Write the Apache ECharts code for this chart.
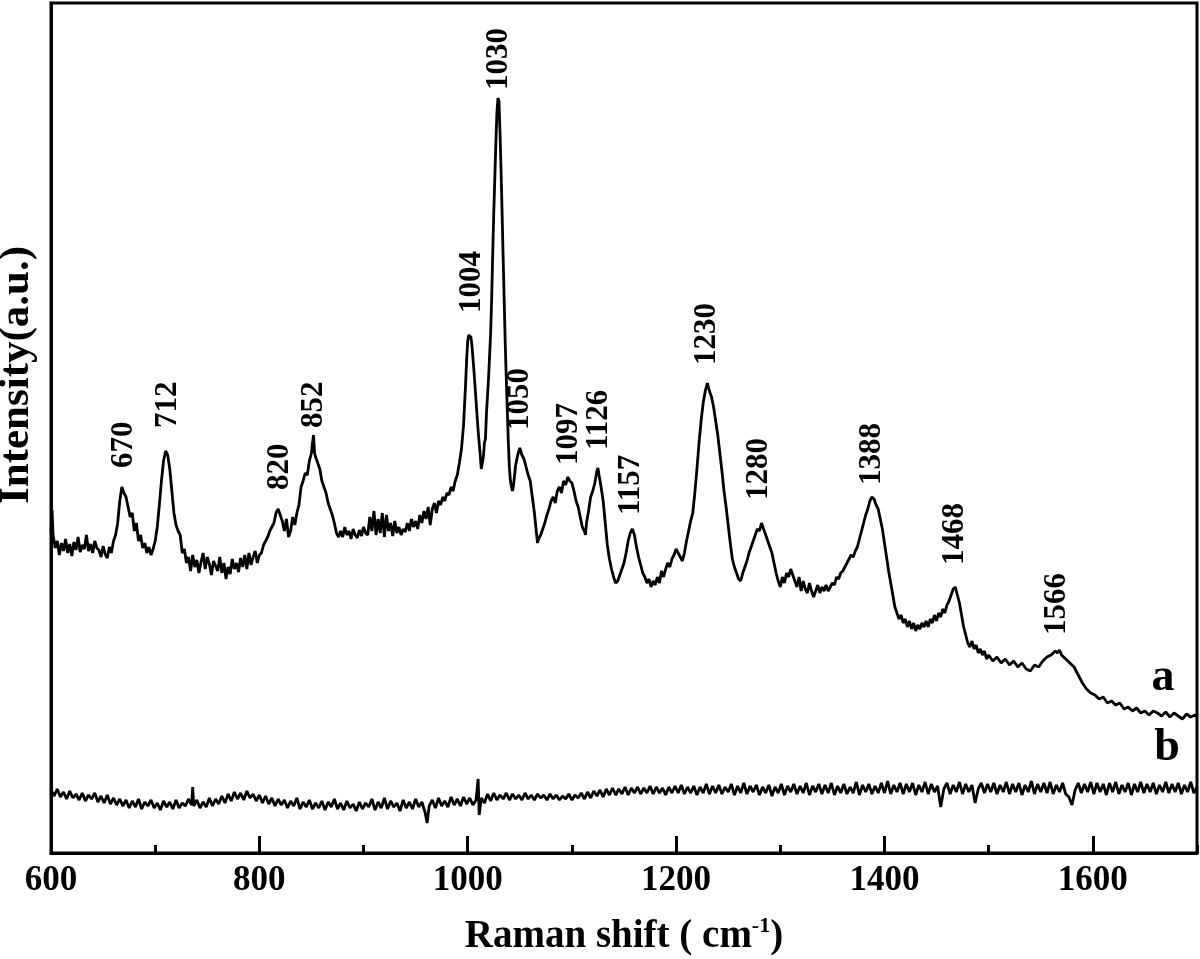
<!DOCTYPE html>
<html>
<head>
<meta charset="utf-8">
<script src="https://cdn.jsdelivr.net/npm/echarts@6/dist/echarts.min.js"></script>
<style>
html,body{margin:0;padding:0;background:#fff;}
#chart{width:1200px;height:959px;}
</style>
</head>
<body>
<div id="chart"></div>
<script>
// Raman spectrum a (shift cm-1, intensity a.u.)
const spectrumA = [
[600,320],[601,343],[602,318],[604,305],[606,312],[608,298],[610,310],[612,302],[614,314],[616,300],[618,309],[620,297],[622,311],[624,303],[626,316],[628,301],[630,308],[632,304],[634,318],[636,302],[638,309],[640,300],[642,312],[644,305],[646,303],[648,296],[650,307],[652,299],[654,295],[656,306],[658,300],[660,312],
[662,318],[664,330],[666,352],[668,366],[669,368],[670,360],[672,356],[674,346],[676,336],[678,340],[680,322],[682,330],[684,312],[686,318],[688,305],[690,310],[692,300],[694,306],[696,298],[698,304],[700,312],
[702,326],[704,348],[706,372],[708,392],[710,402],[711,404],[712,398],[714,384],[716,362],[718,340],[720,328],[722,322],[724,318],[726,300],[728,304],
[730,290],[732,296],[734,282],[736,298],[738,286],[740,293],[742,280],[744,291],[746,300],[748,284],[750,296],[752,289],[754,278],[756,292],[758,287],[760,282],[762,296],[764,280],[766,290],[768,274],[770,286],[772,279],[774,294],[776,284],[778,290],[780,281],[782,295],[784,286],[786,298],[788,284],[790,300],[792,288],[794,296],[796,302],[798,290],[800,298],
[802,300],[804,308],[806,312],[808,316],[810,322],[812,326],[814,330],[816,340],[818,344],[820,338],[822,332],[824,322],[826,334],[828,316],[830,322],[832,336],[834,328],[836,340],[838,348],
[840,366],[842,372],[844,380],[846,378],[848,392],[850,400],[851,410],[852,418],[853,400],[854,396],[856,390],[858,384],[860,372],[862,366],[864,360],[866,350],[868,344],[870,338],[872,330],[874,320],[876,316],
[878,322],[880,316],[882,326],[884,318],[886,322],[888,314],[890,324],[892,318],[894,315],[896,323],[898,317],[900,326],[902,320],[904,318],[906,336],[908,322],[910,342],[912,318],[914,334],[916,320],[918,340],[920,316],[922,338],[924,322],[926,330],[928,317],[930,332],[932,320],[934,326],[936,318],[938,324],[940,321],[942,330],[944,322],[946,334],[948,326],[950,332],[952,324],[954,338],[956,330],[958,342],[960,334],[962,346],[964,328],[966,344],[968,350],[970,340],[972,352],[974,348],[976,356],[978,352],[980,360],[982,358],[984,366],[986,362],
[988,372],[990,378],[992,390],[994,404],[996,428],[998,470],[999,494],[1000,512],[1001,518],[1002,520],[1003,516],[1004,508],[1006,482],[1008,452],[1010,422],[1012,398],[1013,384],[1014,382],[1015,396],[1016,410],[1017,414],[1018,440],[1020,475],[1022,520],[1023,555],[1024,600],[1025,640],[1026,675],[1027,710],[1028,740],[1029,755],[1030,752],[1031,720],[1032,683],[1033,640],[1034,595],[1035,553],[1036,510],[1037,475],[1038,443],[1039,410],[1040,385],[1041,372],[1042,366],[1043,362],[1044,368],[1046,388],[1048,398],[1050,405],[1052,398],[1054,394],[1056,386],[1058,378],[1060,372],[1062,356],[1064,340],[1066,320],[1067,310],[1068,314],[1070,318],[1072,324],[1074,330],[1076,338],[1078,344],[1080,352],[1082,356],[1084,350],[1086,362],[1088,366],[1090,360],[1092,372],[1094,368],[1096,376],[1098,372],[1100,370],[1102,362],[1104,352],[1106,346],[1108,336],[1110,326],[1112,322],[1113,318],[1114,330],[1116,342],[1118,356],[1120,362],[1122,370],[1124,382],[1125,385],[1126,378],[1128,366],[1130,352],[1132,330],[1134,308],[1136,294],[1138,284],[1140,276],[1142,270],[1144,272],[1146,278],[1148,284],[1150,290],[1152,300],[1154,312],[1156,320],[1158,324],[1160,318],[1162,306],[1164,296],[1166,288],[1168,280],[1170,276],[1172,270],[1174,274],[1176,266],[1178,272],[1180,268],[1182,276],[1184,270],[1186,282],[1188,276],[1190,284],[1192,290],[1194,286],[1196,294],[1198,298],[1200,304],[1202,300],[1204,296],[1206,292],[1208,300],[1210,312],[1212,322],[1214,332],[1216,340],[1218,360],[1220,384],[1222,410],[1224,432],[1226,450],[1228,462],[1230,470],[1231,466],[1232,462],[1234,456],[1236,446],[1238,432],[1240,418],[1242,400],[1244,382],[1246,362],[1248,346],[1250,328],[1252,310],[1254,294],[1256,286],[1258,280],[1260,274],[1262,272],[1264,280],[1266,286],[1268,292],[1270,300],[1272,306],[1274,312],[1276,318],[1278,324],[1280,322],[1282,330],[1284,324],[1286,318],[1288,312],[1290,306],[1292,300],[1294,290],[1296,280],[1298,272],[1300,266],[1302,276],[1304,270],[1306,280],[1308,276],[1310,284],[1312,278],[1314,272],[1316,266],[1318,276],[1320,262],[1322,272],[1324,264],[1326,260],[1328,270],[1330,262],[1332,256],[1334,262],[1336,268],[1338,260],[1340,266],[1342,262],[1344,268],[1346,262],[1348,266],[1350,270],[1352,268],[1354,276],[1356,274],[1358,280],[1360,282],[1362,286],[1364,290],[1366,294],[1368,298],[1370,296],[1372,302],[1374,306],[1376,314],[1378,322],[1380,330],[1382,338],[1384,344],[1386,352],[1388,356],[1390,354],[1392,348],[1394,344],[1396,334],[1398,324],[1400,310],[1402,296],[1404,282],[1406,270],[1408,258],[1410,246],[1412,240],[1414,234],[1416,238],[1418,230],[1420,234],[1422,226],[1424,232],[1426,224],[1428,230],[1430,222],[1432,228],[1434,224],[1436,230],[1438,226],[1440,232],[1442,226],[1444,234],[1446,230],[1448,238],[1450,232],[1452,240],[1454,236],[1456,244],[1458,240],[1460,248],[1462,252],[1464,258],[1466,264],[1468,266],[1470,258],[1472,250],[1474,238],[1476,226],[1478,218],[1480,210],[1482,206],[1484,212],[1486,204],[1488,208],[1490,200],[1492,204],[1494,198],[1496,202],[1498,194],[1500,198],[1504,192],[1508,196],[1512,190],[1516,194],[1520,188],[1524,192],[1528,186],[1532,190],[1536,184],[1540,182],[1544,188],[1548,186],[1552,192],[1556,196],[1560,198],[1564,202],[1566,200],[1568,203],[1570,198],[1574,194],[1578,190],[1582,186],[1586,178],[1590,170],[1594,164],[1598,160],[1602,158],[1606,154],[1610,156],[1614,150],[1618,152],[1622,148],[1626,150],[1630,144],[1634,146],[1638,142],[1642,145],[1646,140],[1650,142],[1654,138],[1658,142],[1662,140],[1666,137],[1670,141],[1674,136],[1678,140],[1682,137],[1686,134],[1690,139],[1694,136],[1698,138],[1700,136]
];

// Raman spectrum b
const spectrumB = [
[600,63],[603,57],[606,64],[609,56],[612,61],[615,54],[618,62],[621,55],[624,59],[627,53],[630,60],[633,52],[636,58],[639,54],[642,60],[645,51],[648,57],[651,50],[654,58],[657,49],[660,55],[663,48],[666,54],[669,47],[672,53],[675,45],[678,52],[681,46],[684,54],[687,44],[690,51],[693,47],[696,53],[699,45],[702,50],[705,43],[708,52],[711,46],[714,51],[717,44],[720,53],[723,45],[726,50],[729,47],[732,54],[735,48],[736,66],[737,47],[740,53],[743,45],[746,51],[749,46],[752,55],[755,47],[758,54],[761,49],[764,57],[767,50],[770,59],[773,52],[776,61],[779,54],[782,60],[785,53],[788,62],[791,55],[794,59],[797,52],[800,58],[803,50],[806,57],[809,49],[812,55],[815,47],[818,54],[821,48],[824,53],[827,45],[830,52],[833,47],[836,55],[839,44],[842,51],[845,46],[848,53],[851,44],[854,50],[857,45],[860,52],[863,43],[866,51],[869,46],[872,54],[875,44],[878,50],[881,43],[884,52],[887,45],[890,49],[893,42],[896,51],[899,44],[902,50],[905,46],[908,54],[911,43],[914,51],[917,45],[920,55],[923,44],[926,52],[929,46],[932,50],[935,42],[938,53],[941,45],[944,51],[947,44],[950,54],[953,46],[956,51],[959,41],[961,30],[963,47],[966,53],[969,45],[972,55],[975,47],[978,52],[981,46],[984,56],[987,48],[990,54],[993,47],[996,56],[999,49],[1002,55],[1005,48],[1008,53],[1010,74],[1011,38],[1013,55],[1016,50],[1019,59],[1022,52],[1025,60],[1028,53],[1031,58],[1034,54],[1037,60],[1040,53],[1043,59],[1046,54],[1049,58],[1052,53],[1055,60],[1058,54],[1061,58],[1064,53],[1067,59],[1070,55],[1073,58],[1076,53],[1079,59],[1082,54],[1085,58],[1088,53],[1091,57],[1094,54],[1097,59],[1100,53],[1103,58],[1106,55],[1109,60],[1112,54],[1115,61],[1118,55],[1121,62],[1124,57],[1127,63],[1130,56],[1133,64],[1136,58],[1139,65],[1142,58],[1145,64],[1148,59],[1151,66],[1154,58],[1157,65],[1160,60],[1163,66],[1166,59],[1169,65],[1172,60],[1175,67],[1178,59],[1181,66],[1184,60],[1187,65],[1190,58],[1193,66],[1196,60],[1199,67],[1202,60],[1205,68],[1208,59],[1211,66],[1214,60],[1217,67],[1220,58],[1223,66],[1226,60],[1229,69],[1232,59],[1235,67],[1238,60],[1241,68],[1244,59],[1247,66],[1250,61],[1253,69],[1256,58],[1259,67],[1262,60],[1265,70],[1268,59],[1271,67],[1274,61],[1277,68],[1280,58],[1283,66],[1286,60],[1289,68],[1292,57],[1295,66],[1298,60],[1301,69],[1304,58],[1307,67],[1310,61],[1313,69],[1316,59],[1319,67],[1322,60],[1325,70],[1328,58],[1331,67],[1334,61],[1337,69],[1340,59],[1343,68],[1346,60],[1349,70],[1352,58],[1355,67],[1358,60],[1361,69],[1364,59],[1367,66],[1370,60],[1373,71],[1376,58],[1379,68],[1382,61],[1385,69],[1388,59],[1391,67],[1394,60],[1397,70],[1400,60],[1403,72],[1406,59],[1409,68],[1412,61],[1415,70],[1418,59],[1421,69],[1424,61],[1427,70],[1430,58],[1433,68],[1436,61],[1439,71],[1442,59],[1445,69],[1448,61],[1451,67],[1454,46],[1457,64],[1460,70],[1463,59],[1466,68],[1469,61],[1472,71],[1475,59],[1478,69],[1481,61],[1484,68],[1487,50],[1490,64],[1493,70],[1496,60],[1499,69],[1502,61],[1505,70],[1508,59],[1511,68],[1514,61],[1517,71],[1520,59],[1523,69],[1526,61],[1529,70],[1532,58],[1535,68],[1538,61],[1541,72],[1544,59],[1547,69],[1550,61],[1553,70],[1556,60],[1559,71],[1562,59],[1565,68],[1568,61],[1571,70],[1574,59],[1577,56],[1580,48],[1583,63],[1586,70],[1589,60],[1592,69],[1595,61],[1598,71],[1601,59],[1604,70],[1607,61],[1610,69],[1613,58],[1616,70],[1619,61],[1622,71],[1625,59],[1628,68],[1631,61],[1634,70],[1637,58],[1640,69],[1643,61],[1646,71],[1649,60],[1652,69],[1655,61],[1658,70],[1661,59],[1664,68],[1667,61],[1670,71],[1673,60],[1676,69],[1679,61],[1682,70],[1685,59],[1688,68],[1691,61],[1694,71],[1697,60],[1700,66]
];

// Peak annotations: [wavenumber, label base intensity]
const peakLabels = [
[670,385],[712,425],[820,363],[852,425],[1004,540],[1030,763],[1050,423],[1097,388],[1126,403],[1157,338],[1230,488],[1280,353],[1388,368],[1468,288],[1566,218]
];

const xTicks = { min: 600, max: 1700, major: 200, minor: 100 };
const curveNames = ['a', 'b'];

const FONT = "'Liberation Serif', 'Times New Roman', serif";
const chart = echarts.init(document.getElementById('chart'));

chart.setOption({
  animation: false,
  backgroundColor: '#ffffff',
  grid: { left: 51, right: 3, top: 3, bottom: 106, show: true, borderColor: '#000', borderWidth: 3, containLabel: false, outerBoundsMode: 'none' },
  xAxis: [
    {
      type: 'value', min: xTicks.min, max: xTicks.max, interval: xTicks.major,
      axisLine: { show: true, onZero: false, lineStyle: { color: '#000', width: 3 } },
      axisTick: { show: true, inside: true, length: 17, lineStyle: { color: '#000', width: 3 } },
      axisLabel: { show: true, margin: 10, fontFamily: FONT, fontWeight: 'bold', fontSize: 35, color: '#000', showMaxLabel: false, formatter: v => String(v) },
      splitLine: { show: false },
      name: 'Raman shift ( cm{sup|-1})',
      nameLocation: 'middle', nameGap: 62,
      nameTextStyle: {
        fontFamily: FONT, fontWeight: 'bold', fontSize: 39, color: '#000',
        rich: { sup: { fontFamily: FONT, fontWeight: 'bold', fontSize: 22, color: '#000', padding: [0, 0, 22, 0] } }
      }
    },
    {
      type: 'value', min: xTicks.min, max: xTicks.max, interval: xTicks.minor,
      position: 'bottom',
      axisLine: { show: false },
      axisTick: { show: true, inside: true, length: 8, lineStyle: { color: '#000', width: 3 } },
      axisLabel: { show: false },
      splitLine: { show: false }
    }
  ],
  yAxis: {
    type: 'value', min: 0, max: 850,
    axisLine: { show: true, lineStyle: { color: '#000', width: 3 } },
    axisTick: { show: false },
    axisLabel: { show: false },
    splitLine: { show: false }
  },
  series: [
    {
      name: curveNames[0], type: 'line', data: spectrumA, xAxisIndex: 0,
      showSymbol: false, symbol: 'none',
      lineStyle: { color: '#000', width: 2.8 }
    },
    {
      name: curveNames[1], type: 'line', data: spectrumB, xAxisIndex: 0,
      showSymbol: false, symbol: 'none',
      lineStyle: { color: '#000', width: 2.8 }
    },
    {
      type: 'scatter', data: peakLabels, xAxisIndex: 0,
      symbolSize: 0, silent: true,
      itemStyle: { opacity: 1 },
      label: {
        show: true, position: [0, 0], rotate: 90, align: 'left', verticalAlign: 'middle',
        formatter: p => String(p.value[0]),
        fontFamily: FONT, fontWeight: 'bold', fontSize: 31, color: '#000'
      }
    }
  ],
  graphic: [
    {
      type: 'text', x: 17, y: 375, rotation: Math.PI / 2,
      style: { text: 'Intensity(a.u.)', fontFamily: FONT, fontWeight: 'bold', fontSize: 43, fill: '#000', textAlign: 'center', textVerticalAlign: 'middle' }
    },
    {
      type: 'text', x: 1163, y: 678,
      style: { text: curveNames[0], fontFamily: FONT, fontWeight: 'bold', fontSize: 46, fill: '#000', textAlign: 'center', textVerticalAlign: 'middle' }
    },
    {
      type: 'text', x: 1167, y: 748,
      style: { text: curveNames[1], fontFamily: FONT, fontWeight: 'bold', fontSize: 46, fill: '#000', textAlign: 'center', textVerticalAlign: 'middle' }
    }
  ]
});
</script>
</body>
</html>
